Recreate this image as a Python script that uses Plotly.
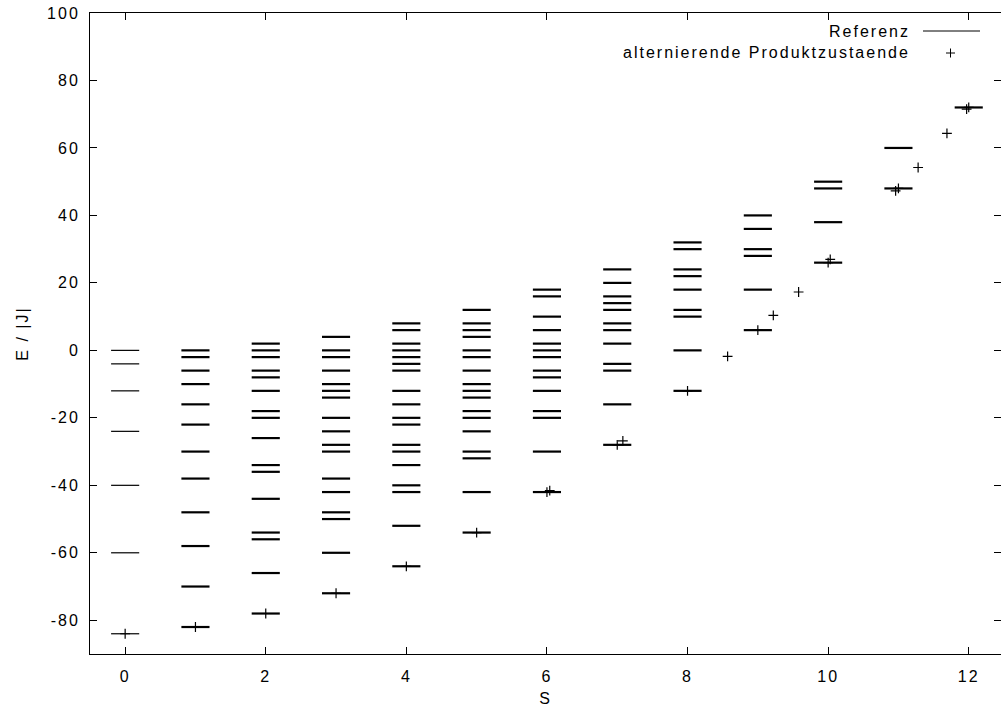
import plotly.graph_objects as go

# ---------------- data ----------------
spins = list(range(13))

ref_S0 = [0, -4, -12, -24, -40, -60, -84]
ref_S1 = [0, -2, -6, -10, -16, -22, -30, -38, -48, -58, -70, -82]
ref_S2 = [2, 0, -2, -6, -8, -12, -18, -20, -26, -34, -36, -44, -54, -56, -66, -78]
ref_S3 = [4, 0, -2, -6, -10, -12, -14, -20, -24, -28, -30, -38, -42, -48, -50, -60, -72]
ref_S4 = [8, 6, 2, 0, -2, -4, -6, -12, -16, -20, -22, -28, -30, -34, -40, -42, -52, -64]
ref_S5 = [12, 8, 6, 4, 0, -2, -6, -10, -12, -14, -18, -20, -24, -30, -32, -42, -54]
ref_S6 = [18, 16, 10, 6, 2, 0, -2, -6, -8, -12, -18, -20, -30, -42]
ref_S7 = [24, 20, 16, 14, 12, 8, 6, 2, -4, -6, -16, -28]
ref_S8 = [32, 30, 24, 22, 18, 12, 10, 0, -12]
ref_S9 = [40, 36, 30, 28, 18, 6]
ref_S10 = [50, 48, 38, 26]
ref_S11 = [60, 48]
ref_S12 = [72]

reference_levels = [ref_S0, ref_S1, ref_S2, ref_S3, ref_S4, ref_S5, ref_S6,
                    ref_S7, ref_S8, ref_S9, ref_S10, ref_S11, ref_S12]

prod_S = [0, 1, 2, 3, 4, 5, 6, 6.04, 7, 7.08, 8, 8.57, 9, 9.22, 9.58,
          10, 10.03, 10.96, 11, 11.28, 11.69, 11.97, 12]
prod_E = [-84, -82, -78, -72, -64, -54, -42, -41.6, -28, -26.8, -12, -1.8, 6, 10.4, 17.3,
          26, 27, 47.3, 48, 54.2, 64.3, 71.5, 72]

x_ticks = [0, 2, 4, 6, 8, 10, 12]
y_ticks = [-80, -60, -40, -20, 0, 20, 40, 60, 80, 100]

half_width = 0.2
FONT = "Liberation Sans, Arial, sans-serif"
LS = "letter-spacing:2px"


def sp(t):
    return f'<span style="{LS}">{t}</span>'


# ---------------- figure ----------------
fig = go.Figure()

for s, levels in zip(spins, reference_levels):
    xs, ys = [], []
    for e in levels:
        xs += [s - half_width, s + half_width, None]
        ys += [e, e, None]
    fig.add_trace(go.Scatter(
        x=xs, y=ys, mode="lines", name="Referenz", showlegend=False,
        line=dict(color="black", width=1.2 if s == 0 else 2.2),
        hoverinfo="skip",
    ))

fig.add_trace(go.Scatter(
    x=prod_S, y=prod_E, mode="markers", name="alternierende Produktzustaende",
    showlegend=False,
    marker=dict(symbol="cross-thin", size=7, color="black",
                line=dict(color="black", width=1.2)),
))

axis_common = dict(
    showline=True, linecolor="black", linewidth=1, mirror="allticks",
    ticks="inside", ticklen=7, tickcolor="black", tickwidth=1,
    showgrid=False, zeroline=False,
    tickfont=dict(family=FONT, size=16, color="black"),
)

fig.update_xaxes(
    range=[-0.5, 12.459], tickvals=x_ticks, ticktext=[sp(str(v)) for v in x_ticks],
    title=dict(text=sp("S"), font=dict(family=FONT, size=16, color="black"), standoff=8),
    ticklabelstandoff=8,
    **axis_common,
)
fig.update_yaxes(
    range=[-90, 100], tickvals=y_ticks, ticktext=[sp(str(v)) for v in y_ticks],
    title=dict(text=sp("E / |J|"), font=dict(family=FONT, size=16, color="black"), standoff=14),
    ticklabelstandoff=6,
    **axis_common,
)

W, H = 1001, 718
ML, MR, MT, MB = 90, 0, 13, 64
pw, ph = W - ML - MR, H - MT - MB


def px(x):
    return (x - ML) / pw


def py(y):
    return 1 - (y - MT) / ph


# manual gnuplot-style key (text left of sample)
fig.add_annotation(x=px(912), y=py(31), xref="paper", yref="paper",
                   text=sp("Referenz"), showarrow=False, xanchor="right", yanchor="middle",
                   font=dict(family=FONT, size=16, color="black"))
fig.add_annotation(x=px(912), y=py(53), xref="paper", yref="paper",
                   text=sp("alternierende Produktzustaende"), showarrow=False,
                   xanchor="right", yanchor="middle",
                   font=dict(family=FONT, size=16, color="black"))
fig.add_shape(type="line", xref="paper", yref="paper",
              x0=px(923), x1=px(980), y0=py(31), y1=py(31),
              line=dict(color="black", width=1))
fig.add_shape(type="line", xref="paper", yref="paper",
              x0=px(946), x1=px(955), y0=py(53), y1=py(53),
              line=dict(color="black", width=1))
fig.add_shape(type="line", xref="paper", yref="paper",
              x0=px(950.5), x1=px(950.5), y0=py(48.5), y1=py(57.5),
              line=dict(color="black", width=1))

fig.update_layout(
    width=W, height=H,
    margin=dict(l=ML, r=MR, t=MT, b=MB, pad=0),
    plot_bgcolor="white", paper_bgcolor="white",
    font=dict(family=FONT, size=16, color="black"),
    showlegend=False,
)

fig.write_html("out.html")
